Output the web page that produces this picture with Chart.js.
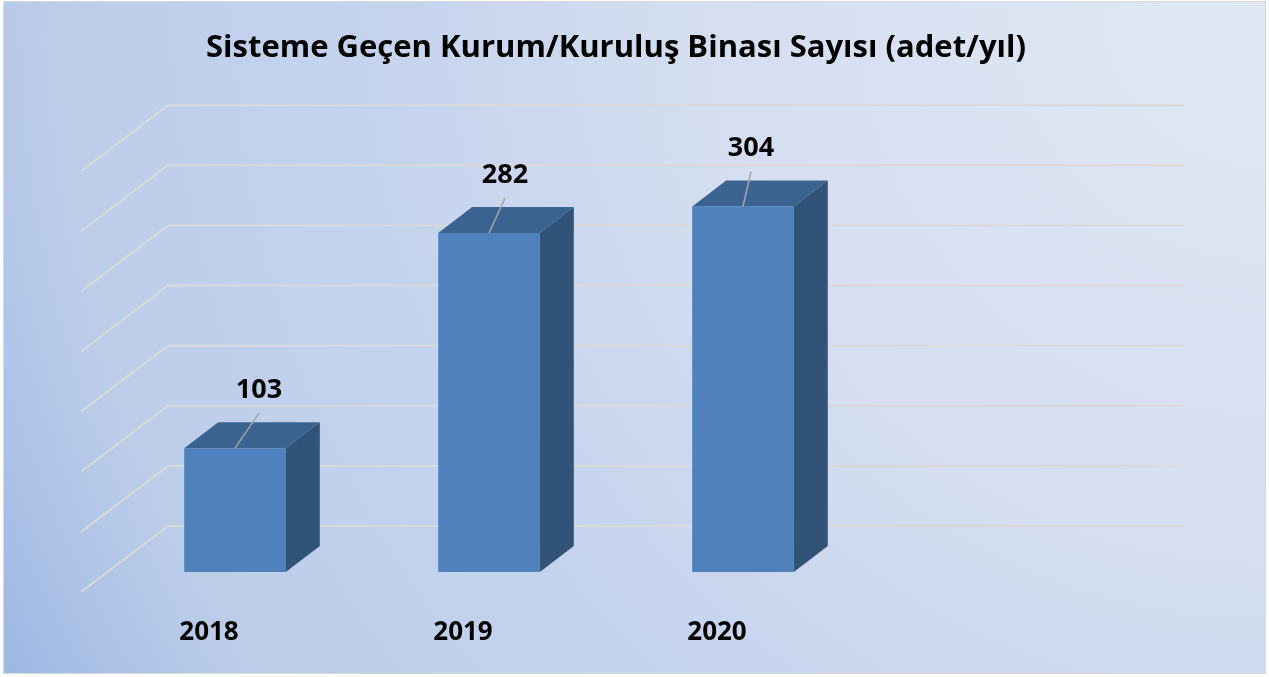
<!DOCTYPE html>
<html>
<head>
<meta charset="utf-8">
<script src="https://cdn.jsdelivr.net/npm/chart.js@4.4.1/dist/chart.umd.min.js"></script>
<style>
  html, body { margin: 0; padding: 0; background: #fff; }
  #wrap { width: 1269px; height: 677px; }
</style>
</head>
<body>
<div id="wrap"><canvas id="chart"></canvas></div>
<script>
// last slot is empty in the original chart (space to the right of 2020)
const categories = ['2018', '2019', '2020', ''];
const buildingCounts = [103, 282, 304, null];
const gridValues = [0, 50, 100, 150, 200, 250, 300, 350];

const FONT = '"Open Sans", Lato, sans-serif';
const WALL = { dx: 87, dy: -66 };
const BAR_FRONT = { dx: 27, dy: -20 };
const BAR_DEPTH = { dx: 34, dy: -26 };
const LABEL_SHIFT = [24, 16, 8];

const backgroundPlugin = {
  id: 'background',
  beforeDraw(chart) {
    const { ctx, width, height } = chart;
    ctx.save();
    ctx.fillStyle = '#ffffff';
    ctx.fillRect(0, 0, width, height);
    const g = ctx.createRadialGradient(width, 0, 0, width, 0, Math.hypot(width, height));
    g.addColorStop(0, '#e1e8f5');
    g.addColorStop(0.4, '#d4def0');
    g.addColorStop(0.6, '#c6d4ee');
    g.addColorStop(0.85, '#bccdea');
    g.addColorStop(1, '#9db7e2');
    ctx.fillStyle = g;
    ctx.fillRect(4, 2, width - 8, height - 6);
    ctx.strokeStyle = '#d9d9d9';
    ctx.lineWidth = 1;
    ctx.strokeRect(3.5, 1.5, width - 7, height - 5);
    ctx.restore();
  }
};

const wallGridPlugin = {
  id: 'wallGrid',
  beforeDatasetsDraw(chart) {
    const { ctx, chartArea, scales: { y } } = chart;
    const frontLeft = chartArea.left - BAR_FRONT.dx;
    const backLeft = frontLeft + WALL.dx;
    const backRight = chartArea.right - BAR_FRONT.dx + WALL.dx;
    ctx.save();
    ctx.strokeStyle = '#d9d9d9';
    ctx.lineWidth = 2;
    gridValues.forEach(v => {
      const floorY = y.getPixelForValue(v) - BAR_FRONT.dy;
      const backY = floorY + WALL.dy;
      ctx.beginPath();
      ctx.moveTo(frontLeft, floorY);
      ctx.lineTo(backLeft, backY);
      ctx.lineTo(backRight, backY);
      ctx.stroke();
    });
    ctx.restore();
  }
};

const bar3dPlugin = {
  id: 'bar3d',
  afterDatasetsDraw(chart) {
    const { ctx } = chart;
    const meta = chart.getDatasetMeta(0);
    ctx.save();
    meta.data.forEach((bar, i) => {
      if (buildingCounts[i] == null) return;
      const { x, y, base, width } = bar.getProps(['x', 'y', 'base', 'width'], true);
      const l = x - width / 2;
      const r = x + width / 2;
      const dx = BAR_DEPTH.dx;
      const dy = BAR_DEPTH.dy;

      ctx.fillStyle = '#3b6391';
      ctx.beginPath();
      ctx.moveTo(l, y);
      ctx.lineTo(l + dx, y + dy);
      ctx.lineTo(r + dx, y + dy);
      ctx.lineTo(r, y);
      ctx.closePath();
      ctx.fill();

      ctx.fillStyle = '#315378';
      ctx.beginPath();
      ctx.moveTo(r, y);
      ctx.lineTo(r + dx, y + dy);
      ctx.lineTo(r + dx, base + dy);
      ctx.lineTo(r, base);
      ctx.closePath();
      ctx.fill();

      // leader line + value label
      const lx = x + LABEL_SHIFT[i];
      ctx.strokeStyle = '#a6a6a6';
      ctx.lineWidth = 1.5;
      ctx.beginPath();
      ctx.moveTo(x, y);
      ctx.lineTo(lx, y - 35);
      ctx.stroke();

      ctx.fillStyle = '#000';
      ctx.font = 'bold 27px ' + FONT;
      ctx.textAlign = 'center';
      ctx.textBaseline = 'middle';
      ctx.fillText(String(buildingCounts[i]), lx, y - 58);
    });
    ctx.restore();
  }
};

new Chart(document.getElementById('chart'), {
  type: 'bar',
  data: {
    labels: categories,
    datasets: [{
      data: buildingCounts,
      backgroundColor: '#4f81bd',
      borderWidth: 0,
      barPercentage: 0.8,
      categoryPercentage: 0.5,
    }],
  },
  options: {
    responsive: true,
    maintainAspectRatio: false,
    animation: false,
    layout: { padding: { left: 108, right: 145, top: 0, bottom: 26 } },
    plugins: {
      legend: { display: false },
      tooltip: { enabled: false },
      title: {
        display: true,
        text: 'Sisteme Geçen Kurum/Kuruluş Binası Sayısı (adet/yıl)',
        color: '#000',
        font: { family: FONT, size: 31, weight: 'bold' },
        padding: { top: 30, bottom: 84 },
      },
    },
    scales: {
      x: {
        grid: { display: false, drawTicks: false },
        border: { display: false },
        afterFit: scale => { scale.height = 79; },
        ticks: {
          color: '#000',
          font: { family: FONT, size: 26, weight: 'bold' },
          labelOffset: -26,
          padding: 45,
        },
      },
      y: {
        display: false,
        min: 0,
        max: 350,
      },
    },
  },
  plugins: [backgroundPlugin, wallGridPlugin, bar3dPlugin],
});
</script>
</body>
</html>
